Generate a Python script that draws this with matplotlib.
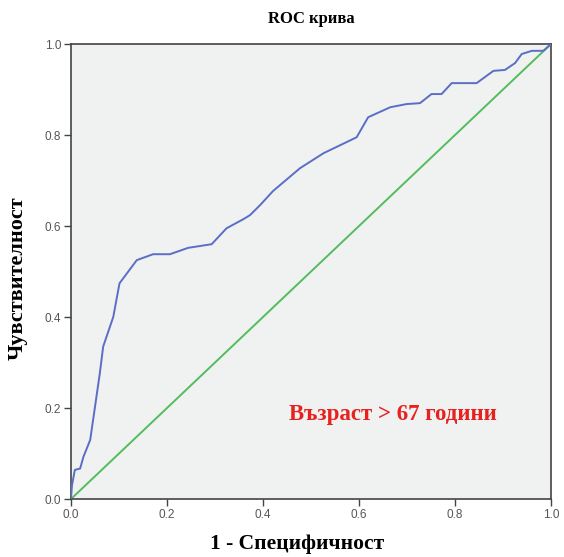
import matplotlib
matplotlib.use("Agg")
import matplotlib.pyplot as plt

# ROC curve points (1 - specificity, sensitivity)
fpr = [0.0, 0.002, 0.008, 0.019, 0.026, 0.040, 0.050, 0.060, 0.067, 0.088,
       0.101, 0.137, 0.171, 0.206, 0.244, 0.293, 0.324, 0.359, 0.373, 0.394,
       0.421, 0.477, 0.526, 0.595, 0.619, 0.665, 0.699, 0.727, 0.751, 0.772,
       0.793, 0.845, 0.880, 0.904, 0.925, 0.939, 0.960, 0.984, 1.0]
tpr = [0.0, 0.030, 0.064, 0.067, 0.093, 0.130, 0.203, 0.276, 0.335, 0.400,
       0.474, 0.525, 0.538, 0.538, 0.552, 0.560, 0.595, 0.615, 0.624, 0.646,
       0.677, 0.727, 0.760, 0.795, 0.839, 0.861, 0.868, 0.870, 0.890, 0.890,
       0.914, 0.914, 0.941, 0.943, 0.958, 0.978, 0.985, 0.985, 1.0]
ref_line = [0.0, 1.0]
ticks = [0.0, 0.2, 0.4, 0.6, 0.8, 1.0]

serif = ["Liberation Serif", "DejaVu Serif"]

fig = plt.figure(figsize=(5.64, 5.57), dpi=100)
ax = fig.add_axes([0.1259, 0.1041, 0.8511, 0.8169])
ax.set_facecolor("#f0f1f1")

ax.plot(ref_line, ref_line, color="#52bd5c", lw=1.4, zorder=2)
ax.plot(fpr, tpr, color="#5a6ec6", lw=1.4, zorder=3)

ax.set_xlim(0, 1)
ax.set_ylim(0, 1)
ax.set_xticks(ticks)
ax.set_yticks(ticks)
ax.set_xticklabels([f"{t:.1f}" for t in ticks], family="Liberation Sans")
ax.set_yticklabels([f"{t:.1f}" for t in ticks], family="Liberation Sans")
ax.tick_params(direction="out", length=5, width=1, color="#444444",
               labelsize=8.5, labelcolor="#555555", pad=2)
for sp in ax.spines.values():
    sp.set_color("#444444")
    sp.set_linewidth(1.2)

ax.set_title("ROC крива", family=serif, fontweight="bold", fontsize=12, pad=15)
ax.set_xlabel("1 - Специфичност", family=serif, fontweight="bold", fontsize=15.5)
ax.xaxis.set_label_coords(0.471, -0.076)
ax.set_ylabel("Чувствителност", family=serif, fontweight="bold", fontsize=16)
ax.yaxis.set_label_coords(-0.09, 0.486)

ax.text(0.671, 0.185, "Възраст > 67 години", color="#e8211f", family=serif,
        fontweight="bold", fontsize=16.5, ha="center", va="center")

fig.savefig("out.png", dpi=100)
